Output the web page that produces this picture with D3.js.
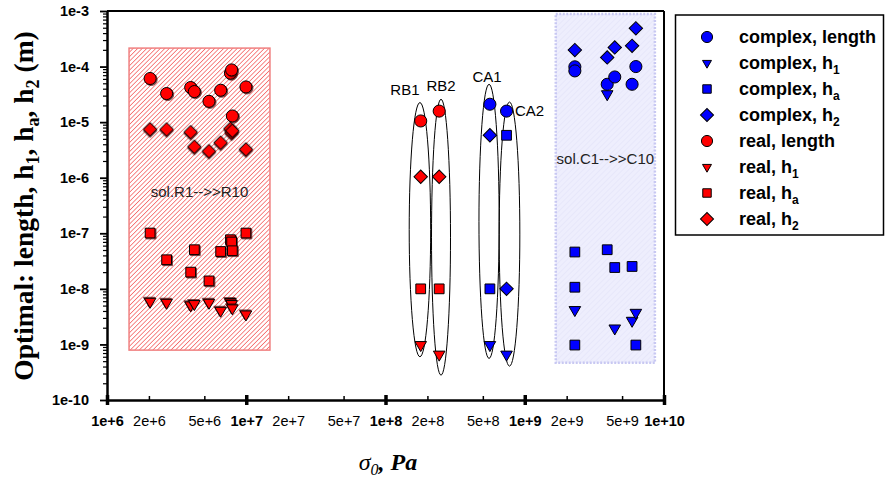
<!DOCTYPE html>
<html>
<head>
<meta charset="utf-8">
<script src="https://cdn.jsdelivr.net/npm/d3@7"></script>
<style>
  body { margin: 0; background: #fff; }
  svg text { font-family: "Liberation Sans", Arial, sans-serif; }
</style>
</head>
<body>
<div id="chart"></div>
<script>
// real solutions R1..R10 (sigma_0 in Pa, sizes in m)
let sigmaReal = [2.04e6, 2.68e6, 3.99e6, 4.24e6, 5.4e6, 6.55e6, 7.7e6, 7.85e6, 7.95e6, 9.95e6];
let realLength = [6.1e-5, 3.27e-5, 4.2e-5, 3.55e-5, 2.37e-5, 3.75e-5, 7.6e-5, 8.7e-5, 1.29e-5, 4.3e-5];
let realH1 = [5.9e-9, 5.66e-9, 5.08e-9, 5.36e-9, 5.66e-9, 4.06e-9, 5.82e-9, 5.36e-9, 4.49e-9, 3.49e-9];
let realHa = [1.01e-7, 3.34e-8, 2.0e-8, 5.06e-8, 1.39e-8, 4.7e-8, 7.66e-8, 6.97e-8, 4.85e-8, 1.01e-7];
let realH2 = [7.4e-6, 7.4e-6, 6.6e-6, 3.6e-6, 3.0e-6, 4.27e-6, 7.6e-6, 6.46e-6, 7.0e-6, 3.23e-6];

// RB1, RB2 (real)
let sigmaRB = [1.79e8, 2.43e8];
let rbLength = [1.05e-5, 1.58e-5];
let rbH1 = [9.8e-10, 6.6e-10];
let rbHa = [1e-8, 1e-8];
let rbH2 = [1.04e-6, 1.04e-6];

// CA1, CA2 (complex)
let sigmaCA = [5.62e8, 7.4e8];
let caLength = [2.1e-5, 1.58e-5];
let caH1 = [9.8e-10, 6.6e-10];
let caHa = [1e-8, 5.8e-6];
let caH2 = [5.8e-6, 1e-8];

// complex solutions C1..C10 (null = hidden under another marker)
let sigmaC = [2.29e9, 2.29e9, 2.29e9, 3.91e9, 4.43e9, 5.9e9, 6.28e9];
let complexLength = [9.9e-5, 8.36e-5, null, 4.8e-5, 6.5e-5, 4.8e-5, 1.0e-4];
let complexH1 = [4.18e-9, null, null, 3.2e-5, 1.95e-9, 2.68e-9, 3.73e-9];
let complexHa = [4.6e-8, 1.07e-8, 9.75e-10, 5.06e-8, 2.42e-8, 2.53e-8, 9.75e-10];
let complexH2 = [1.98e-4, null, null, 1.46e-4, 2.21e-4, 2.36e-4, 4.87e-4];

// ellipses around the RB / CA solutions
let ellipseNames = ["RB1", "RB2", "CA1", "CA2"];
let ellipseSigmaLo = [1.48e8, 2.14e8, 4.69e8, 6.55e8];
let ellipseSigmaHi = [2.11e8, 2.93e8, 6.55e8, 9.22e8];
let ellipseTop = [2.25e-5, 2.58e-5, 4.8e-5, 2.3e-5];
let ellipseBottom = [6.0e-10, 2.8e-10, 5.6e-10, 4.07e-10];

// shaded solution regions
let realRegionSigma = [1.44e6, 1.48e7];
let realRegionValue = [2.15e-4, 7.9e-10];
let complexRegionSigma = [1.67e9, 8.6e9];
let complexRegionValue = [8.8e-4, 4.67e-10];

let legendNames = ["complex, length", "complex, h", "complex, h", "complex, h", "real, length", "real, h", "real, h", "real, h"];
let legendSubs = ["", "1", "a", "2", "", "1", "a", "2"];

let xTicks = [1e6, 2e6, 5e6, 1e7, 2e7, 5e7, 1e8, 2e8, 5e8, 1e9, 2e9, 5e9, 1e10];

const W = 887, H = 483;
const red = "#ff0000", blue = "#0000ff";

let svg = d3.select("#chart").append("svg").attr("width", W).attr("height", H);

let defs = svg.append("defs");
let hatch = defs.append("pattern")
  .attr("id", "hatchRed").attr("width", 3.2).attr("height", 3.2)
  .attr("patternUnits", "userSpaceOnUse").attr("patternTransform", "rotate(45)");
hatch.append("rect").attr("width", 3.2).attr("height", 3.2).attr("fill", "#fff");
hatch.append("line").attr("x1", 0).attr("y1", 0).attr("x2", 0).attr("y2", 3.2)
  .attr("stroke", "#f23a3a").attr("stroke-width", 1.2);

let hatchB = defs.append("pattern")
  .attr("id", "hatchBlue").attr("width", 4).attr("height", 4)
  .attr("patternUnits", "userSpaceOnUse").attr("patternTransform", "rotate(45)");
hatchB.append("rect").attr("width", 4).attr("height", 4).attr("fill", "#eeeefd");
hatchB.append("line").attr("x1", 0).attr("y1", 0).attr("x2", 0).attr("y2", 4)
  .attr("stroke", "#e0e0f8").attr("stroke-width", 1);

defs.append("filter").attr("id", "shadow").attr("x", "-50%").attr("y", "-50%").attr("width", "200%").attr("height", "200%")
  .append("feDropShadow").attr("dx", 1).attr("dy", 1).attr("stdDeviation", 0.4)
  .attr("flood-color", "#400").attr("flood-opacity", 0.7);

let x = d3.scaleLog().domain([1e6, 1e10]).range([107, 664]);
let y = d3.scaleLog().domain([1e-10, 1e-3]).range([400, 11]);

function isDecade(d) {
  return Math.abs(Math.log10(d) - Math.round(Math.log10(d))) < 1e-9;
}

// regions
svg.append("rect")
  .attr("x", x(realRegionSigma[0])).attr("y", y(realRegionValue[0]))
  .attr("width", x(realRegionSigma[1]) - x(realRegionSigma[0]))
  .attr("height", y(realRegionValue[1]) - y(realRegionValue[0]))
  .attr("fill", "url(#hatchRed)").attr("stroke", "#f08080").attr("stroke-width", 1.5);

svg.append("rect")
  .attr("x", x(complexRegionSigma[0])).attr("y", y(complexRegionValue[0]))
  .attr("width", x(complexRegionSigma[1]) - x(complexRegionSigma[0]))
  .attr("height", y(complexRegionValue[1]) - y(complexRegionValue[0]))
  .attr("fill", "url(#hatchBlue)").attr("stroke", "#c8c8f2").attr("stroke-width", 2.5)
  .attr("stroke-dasharray", "2,1.5");

svg.append("text")
  .attr("x", (x(realRegionSigma[0]) + x(realRegionSigma[1])) / 2).attr("y", 197)
  .attr("text-anchor", "middle").style("font-size", "15px").attr("fill", "#222")
  .text("sol.R1-->>R10");
svg.append("text")
  .attr("x", (x(complexRegionSigma[0]) + x(complexRegionSigma[1])) / 2).attr("y", 164)
  .attr("text-anchor", "middle").style("font-size", "15px").attr("fill", "#222")
  .text("sol.C1-->>C10");

// ellipses
let ellData = ellipseNames.map((n, i) => ({
  name: n, lo: ellipseSigmaLo[i], hi: ellipseSigmaHi[i], top: ellipseTop[i], bottom: ellipseBottom[i],
}));
svg.selectAll(".ell")
  .data(ellData)
  .enter()
  .append("ellipse")
  .attr("cx", (d) => (x(d.lo) + x(d.hi)) / 2)
  .attr("cy", (d) => (y(d.top) + y(d.bottom)) / 2)
  .attr("rx", (d) => (x(d.hi) - x(d.lo)) / 2)
  .attr("ry", (d) => (y(d.bottom) - y(d.top)) / 2)
  .attr("fill", "none").attr("stroke", "#000").attr("stroke-width", 1);

// label offsets from ellipse centre / top
let labelDx = [-15, 0, -2, 20];
let labelDy = [-8, -8, -2, 14];
svg.selectAll(".ellLabel")
  .data(ellData)
  .enter()
  .append("text")
  .attr("x", (d, i) => (x(d.lo) + x(d.hi)) / 2 + labelDx[i])
  .attr("y", (d, i) => y(d.top) + labelDy[i])
  .attr("text-anchor", "middle").style("font-size", "15px")
  .text((d) => d.name);

// axes
let xAxis = svg.append("g")
  .attr("transform", "translate(0,400)")
  .call(d3.axisBottom(x).tickValues(xTicks).tickSizeOuter(0).tickFormat(d3.format(".0e")));
xAxis.select(".domain").attr("stroke-width", 2.5);
xAxis.selectAll(".tick line")
  .attr("y1", (d) => (isDecade(d) ? -5 : -4))
  .attr("y2", (d) => (isDecade(d) ? 5 : 0))
  .attr("stroke-width", (d) => (isDecade(d) ? 3.5 : 1.5));
xAxis.selectAll(".tick text")
  .attr("y", 16).attr("dy", "0.71em")
  .style("font-size", "14.5px").style("font-weight", (d) => (isDecade(d) ? "bold" : "normal"))
  .attr("fill", "#000");

let yTicks = [];
for (let e = -10; e <= -3; e++) {
  for (let m = 1; m <= 9; m++) {
    let v = m * Math.pow(10, e);
    if (v <= 1.0001e-3) yTicks.push(v);
  }
}
let yAxis = svg.append("g")
  .attr("transform", "translate(107,0)")
  .call(d3.axisLeft(y).tickValues(yTicks).tickSizeOuter(0)
    .tickFormat((d) => (isDecade(d) ? d3.format(".0e")(d) : "")));
yAxis.select(".domain").attr("stroke-width", 2.5);
yAxis.selectAll(".tick line")
  .attr("x2", (d) => (isDecade(d) ? -7 : -4))
  .attr("stroke-width", (d) => (isDecade(d) ? 1.8 : 1.2));
yAxis.selectAll(".tick text")
  .attr("x", -18)
  .style("font-size", "14.5px").style("font-weight", "bold").attr("fill", "#000");

// frame top / right
svg.append("line").attr("x1", 107).attr("x2", 664).attr("y1", 11).attr("y2", 11)
  .attr("stroke", "#000").attr("stroke-width", 2);
svg.append("line").attr("x1", 664).attr("x2", 664).attr("y1", 11).attr("y2", 400)
  .attr("stroke", "#000").attr("stroke-width", 2);

// markers
let shapes = {
  circle: { type: d3.symbolCircle, size: 115, rot: 0 },
  triangle: { type: d3.symbolTriangle, size: 58, rot: 180 },
  square: { type: d3.symbolSquare, size: 95, rot: 0 },
  diamond: { type: d3.symbolSquare, size: 90, rot: 45 },
};

function zip(xs, ys) {
  return xs.map((s, i) => ({ s: s, v: ys[i] })).filter((d) => d.v != null);
}

let series = [
  { shape: "circle", color: blue, pts: zip(sigmaC, complexLength).concat(zip(sigmaCA, caLength)) },
  { shape: "triangle", color: blue, pts: zip(sigmaC, complexH1).concat(zip(sigmaCA, caH1)) },
  { shape: "square", color: blue, pts: zip(sigmaC, complexHa).concat(zip(sigmaCA, caHa)) },
  { shape: "diamond", color: blue, pts: zip(sigmaC, complexH2).concat(zip(sigmaCA, caH2)) },
  { shape: "circle", color: red, pts: zip(sigmaRB, rbLength), shadowPts: zip(sigmaReal, realLength) },
  { shape: "triangle", color: red, pts: zip(sigmaRB, rbH1), shadowPts: zip(sigmaReal, realH1) },
  { shape: "square", color: red, pts: zip(sigmaRB, rbHa), shadowPts: zip(sigmaReal, realHa) },
  { shape: "diamond", color: red, pts: zip(sigmaRB, rbH2), shadowPts: zip(sigmaReal, realH2) },
];

function symbolPath(shape, scale) {
  let sh = shapes[shape];
  return d3.symbol().type(sh.type).size(sh.size * (scale || 1))();
}

series.forEach(function (s) {
  let sh = shapes[s.shape];
  let all = [];
  if (s.shadowPts) all = all.concat(s.shadowPts.map((p) => Object.assign({ sh: true }, p)));
  all = all.concat(s.pts);
  svg.append("g")
    .selectAll("path")
    .data(all)
    .enter()
    .append("path")
    .attr("d", symbolPath(s.shape))
    .attr("transform", (d) => "translate(" + x(d.s) + "," + y(d.v) + ") rotate(" + sh.rot + ")")
    .attr("fill", s.color)
    .attr("stroke", "#000")
    .attr("stroke-width", 1)
    .attr("filter", (d) => (d.sh ? "url(#shadow)" : null));
});

// legend
let legend = svg.append("g");
legend.append("rect").attr("x", 675.5).attr("y", 15).attr("width", 208).attr("height", 220)
  .attr("fill", "#fff").attr("stroke", "#000").attr("stroke-width", 1.5);

let legendScale = { circle: 0.85, triangle: 0.6, square: 0.75, diamond: 0.95 };
series.forEach(function (s, i) {
  let cy = 37 + i * 26;
  legend.append("path")
    .attr("d", symbolPath(s.shape, legendScale[s.shape]))
    .attr("transform", "translate(707," + cy + ") rotate(" + shapes[s.shape].rot + ")")
    .attr("fill", s.color).attr("stroke", "#000").attr("stroke-width", 1);
  let t = legend.append("text")
    .attr("x", 739).attr("y", cy + 6)
    .style("font-size", "18px").style("font-weight", "bold")
    .text(legendNames[i]);
  if (legendSubs[i]) {
    t.append("tspan").attr("dy", 5).style("font-size", "12px").text(legendSubs[i]);
  }
});

// axis titles
let yt = svg.append("text")
  .attr("transform", "translate(33,206) rotate(-90)")
  .attr("text-anchor", "middle")
  .style("font-family", "'Liberation Serif', 'Times New Roman', serif")
  .style("font-size", "27.5px").style("font-weight", "bold");
yt.append("tspan").text("Optimal: length, h");
yt.append("tspan").attr("dy", 6).style("font-size", "18px").text("1");
yt.append("tspan").attr("dy", -6).text(", h");
yt.append("tspan").attr("dy", 6).style("font-size", "18px").text("a");
yt.append("tspan").attr("dy", -6).text(", h");
yt.append("tspan").attr("dy", 6).style("font-size", "18px").text("2");
yt.append("tspan").attr("dy", -6).text(" (m)");

let xt = svg.append("text")
  .attr("x", 388).attr("y", 470)
  .attr("text-anchor", "middle")
  .style("font-family", "'Liberation Serif', 'Times New Roman', serif")
  .style("font-size", "24px").style("font-style", "italic").style("font-weight", "bold");
xt.append("tspan").style("font-weight", "normal").text("σ");
xt.append("tspan").attr("dy", 5).style("font-size", "16px").style("font-weight", "normal").text("0");
xt.append("tspan").attr("dy", -5).text(", Pa");
</script>
</body>
</html>
